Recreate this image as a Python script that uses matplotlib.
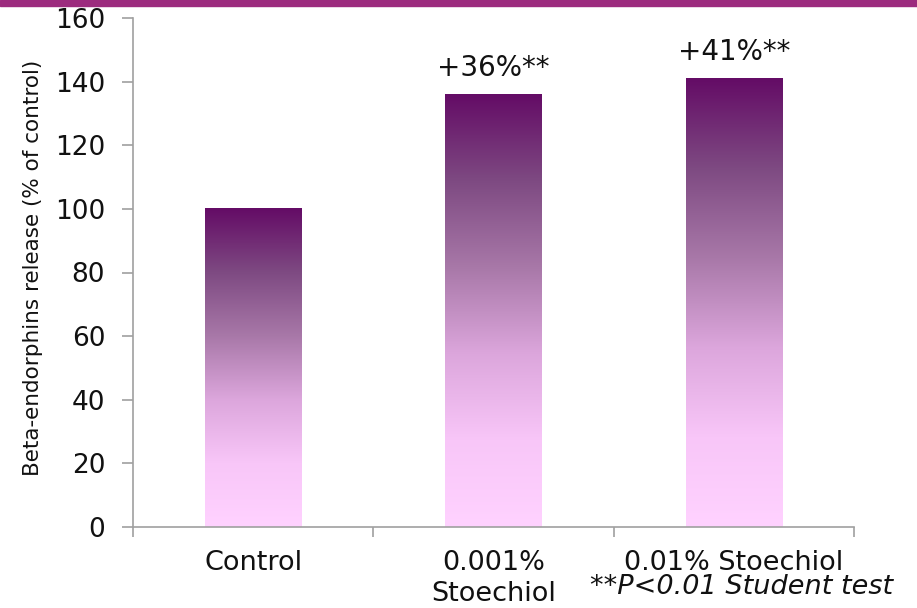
import numpy as np
import matplotlib
matplotlib.use("Agg")
import matplotlib.pyplot as plt
from matplotlib.colors import LinearSegmentedColormap
from matplotlib.patches import Rectangle

categories = ["Control", "0.001%\nStoechiol", "0.01% Stoechiol"]
values = [100, 136, 141]
annotations = ["", "+36%**", "+41%**"]
yticks = [0, 20, 40, 60, 80, 100, 120, 140, 160]
ylabel = "Beta-endorphins release (% of control)"
footnote = "**P<0.01 Student test"

plt.rcParams['font.family'] = ['DejaVu Sans']

fig = plt.figure(figsize=(9.17, 6.08), dpi=100)
# top banner
fig.patches.append(Rectangle((0, 1 - 6/608), 1, 6/608, transform=fig.transFigure,
                             color="#9C2B7E", zorder=10))

ax = fig.add_axes([133/917, 1 - 527/608, (854 - 133)/917, (527 - 18)/608])

cmap = LinearSegmentedColormap.from_list(
    "grad", [(0.0, "#FFD2FF"), (0.2, "#F8C6F8"), (0.4, "#DCA6DC"),
             (0.6, "#A878A8"), (0.8, "#7E4A82"), (1.0, "#640C66")])
grad = np.linspace(0, 1, 256).reshape(-1, 1)

x = np.arange(len(categories))
width = 0.4
bars = ax.bar(x, values, width=width, color="none", edgecolor="none")
for b in bars:
    x0, w, h = b.get_x(), b.get_width(), b.get_height()
    ax.imshow(grad, cmap=cmap, origin="lower", aspect="auto",
              extent=(x0, x0 + w, 0, h), zorder=2)

for xi, v, a in zip(x, values, annotations):
    if a:
        ax.text(xi, v + 8.4, a, ha="center", va="center", fontsize=20, color="#111111")

ax.set_xlim(-0.5, len(categories) - 0.5)
ax.set_ylim(0, 160)
ax.set_yticks(yticks)
ax.tick_params(axis="y", labelsize=19, color="#A0A0A0", length=8, width=1.2, pad=12,
               labelcolor="#111111")
ax.set_xticks(np.arange(len(categories) + 1) - 0.5, minor=False)
ax.set_xticklabels([""] * (len(categories) + 1))
ax.tick_params(axis="x", color="#A0A0A0", length=7, width=1.2)
for xi, c in zip(x, categories):
    ax.text(xi, -7.2, c, ha="center", va="top", fontsize=19.5, color="#111111",
            linespacing=1.23)

for s in ["top", "right"]:
    ax.spines[s].set_visible(False)
for s in ["left", "bottom"]:
    ax.spines[s].set_color("#A0A0A0")
    ax.spines[s].set_linewidth(1.2)

fig.text(33/917, 1 - 268/608, ylabel, rotation=90, ha="center", va="center",
         fontsize=15.5, color="#111111")
fig.text(893/917, 1 - 587/608, footnote, ha="right", va="center", fontsize=19.5,
         style="italic", color="#111111")

fig.savefig("out.png", dpi=100)
